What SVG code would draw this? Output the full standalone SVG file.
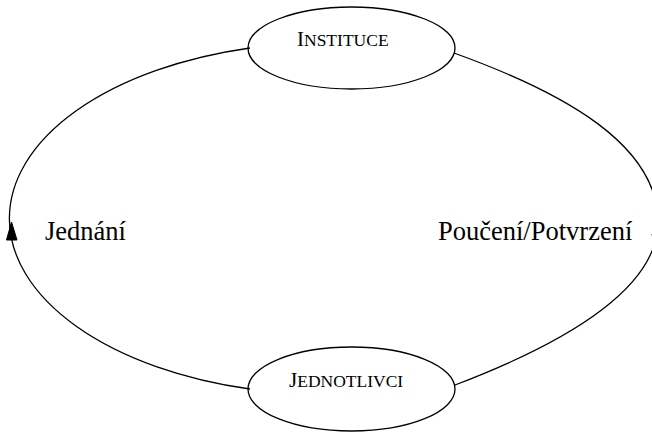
<svg xmlns="http://www.w3.org/2000/svg" width="652" height="434" viewBox="0 0 652 434">
<style>
.node ellipse{fill:none;stroke:#000;stroke-width:1.3}
.edge path{fill:none;stroke:#000;stroke-width:1.3}
.edge polygon{fill:#000;stroke:#000;stroke-width:1}
text{font-family:"Liberation Serif","Times New Roman",serif;fill:#000}
.nl{font-size:17.5px}
.nl .big{font-size:21px}
.el{font-size:26.5px}
</style>
<rect width="652" height="434" fill="#fff"/>
<g id="edges" class="edge">
  <path d="M250,389 A320,176 0 0 1 250,48"/>
  <polygon points="11.5,222 6.5,240 17,240"/>
  <path d="M454,53 C565,93 658,145 658,222 C658,290 560,345 455,385"/>
  <polygon points="652,234 663,234 655.5,252"/>
  <text class="el" x="45" y="240">Jednání</text>
  <text class="el" x="438" y="240">Poučení/Potvrzení</text>
</g>
<g id="node-instituce" class="node">
  <ellipse cx="351.5" cy="48" rx="103.5" ry="41"/>
  <text class="nl" x="297" y="46"><tspan class="big">I</tspan>NSTITUCE</text>
</g>
<g id="node-jednotlivci" class="node">
  <ellipse cx="351.5" cy="389" rx="103.5" ry="42"/>
  <text class="nl" x="289" y="387"><tspan class="big">J</tspan>EDNOTLIVCI</text>
</g>
</svg>
